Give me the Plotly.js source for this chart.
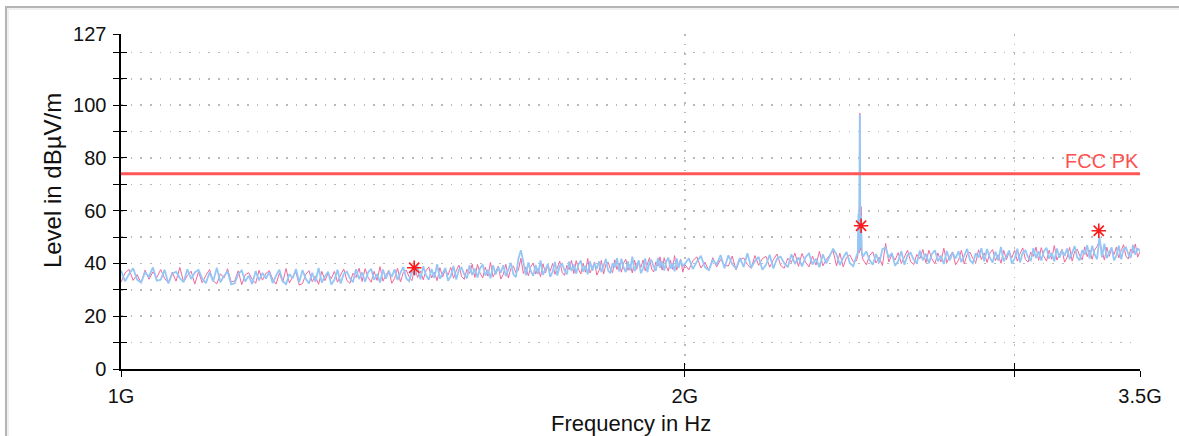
<!DOCTYPE html>
<html>
<head>
<meta charset="utf-8">
<script src="https://cdn.plot.ly/plotly-3.0.1.min.js"></script>
<style>
  html, body { margin: 0; padding: 0; background: #ffffff; }
  #wrap { position: relative; width: 1179px; height: 436px; overflow: hidden; }
  #frame { position: absolute; left: 5px; top: 6px; width: 1200px; height: 460px;
           border-left: 2px solid #b4b4b4; border-top: 2px solid #b4b4b4;
           box-shadow: inset 2px 2px 0 #efefef; }
  #chart { position: absolute; left: 0; top: 0; width: 1179px; height: 436px; }
</style>
</head>
<body>
<div id="wrap">
  <div id="frame"></div>
  <div id="chart"></div>
</div>
<script>
// Frequency sweep points (MHz)
const freqMHz = [
1000,1005,1010,1015,1020,1025,1030,1035,1040,1045,
1050,1055,1060,1065,1070,1075,1080,1085,1090,1095,
1100,1105,1110,1115,1120,1125,1130,1135,1140,1145,
1150,1155,1160,1165,1170,1175,1180,1185,1190,1195,
1200,1205,1210,1215,1220,1225,1230,1235,1240,1245,
1250,1255,1260,1265,1270,1275,1280,1285,1290,1295,
1300,1305,1310,1315,1320,1325,1330,1335,1340,1345,
1350,1355,1360,1365,1370,1375,1380,1385,1390,1395,
1400,1405,1410,1415,1420,1425,1430,1435,1440,1445,
1450,1455,1460,1465,1470,1475,1480,1485,1490,1495,
1500,1505,1510,1515,1520,1525,1530,1535,1540,1545,
1550,1555,1560,1565,1570,1575,1580,1585,1590,1595,
1600,1605,1610,1615,1620,1625,1630,1635,1640,1645,
1650,1655,1660,1665,1670,1675,1680,1685,1690,1695,
1700,1705,1710,1715,1720,1725,1730,1735,1740,1745,
1750,1755,1760,1765,1770,1775,1780,1785,1790,1795,
1800,1805,1810,1815,1820,1825,1830,1835,1840,1845,
1850,1855,1860,1865,1870,1875,1880,1885,1890,1895,
1900,1905,1910,1915,1920,1925,1930,1935,1940,1945,
1950,1955,1960,1965,1970,1975,1980,1985,1990,1995,
2000,
2010,2020,2030,2040,2050,2060,2070,2080,2090,2100,
2110,2120,2130,2140,2150,2160,2170,2180,2190,2200,
2210,2220,2230,2240,2250,2260,2270,2280,2290,2300,
2310,2320,2330,2340,2350,2360,2370,2380,2390,2400,
2410,2420,2430,2440,2450,2460,
2470,2474,2476,2478,2480,2482,2484,2486,2490,
2500,2510,2520,2530,2540,2550,2560,2570,2580,2590,
2600,2610,2620,2630,2640,2650,2660,2670,2680,2690,
2700,2710,2720,2730,2740,2750,2760,2770,2780,2790,
2800,2810,2820,2830,2840,2850,2860,2870,2880,2890,
2900,2910,2920,2930,2940,2950,2960,2970,2980,2990,
3000,3010,3020,3030,3040,3050,3060,3070,3080,3090,
3100,3110,3120,3130,3140,3150,3160,3170,3180,3190,
3200,3210,3220,3230,3240,3250,3260,3270,3280,3290,
3300,3310,3320,3330,3340,3350,3360,3370,3380,3390,
3400,3410,3420,3430,3440,3450,3460,3470,3480,3490,
3500
];

// Peak level, first polarisation (blue trace), dBµV/m
const levelBlue = [
37.3,33.2,36.0,38.2,33.9,32.8,36.6,35.0,38.5,33.5,
33.8,37.6,32.4,36.1,36.9,34.4,32.9,37.8,34.1,36.6,
37.6,34.3,32.5,36.6,33.2,38.4,32.9,35.3,37.0,32.1,
32.5,36.0,37.4,33.2,35.4,32.2,37.1,33.6,36.4,34.3,
36.7,32.6,35.4,37.6,33.3,32.2,36.0,34.4,37.9,32.9,
37.5,34.2,32.4,36.5,33.1,38.3,32.8,35.2,36.9,32.0,
33.8,37.6,32.4,36.1,36.9,34.4,32.9,37.8,34.1,36.6,
33.1,36.6,38.0,33.8,36.0,32.8,37.7,34.2,37.0,34.9,
37.8,33.7,36.5,38.7,34.4,33.3,37.1,35.5,39.0,34.0,
38.9,35.6,33.8,37.9,34.5,39.7,34.2,36.6,38.3,33.4,
35.3,39.1,33.9,37.6,38.4,35.9,34.4,39.3,35.6,38.1,
34.7,38.2,39.6,35.4,37.6,34.4,39.3,35.8,38.6,36.5,
39.3,35.2,38.0,40.2,35.9,34.8,41.8,45.0,40.5,35.5,
40.4,37.1,35.3,39.4,36.0,41.2,35.7,38.1,39.8,34.9,
36.8,40.6,35.4,39.1,39.9,37.4,35.9,40.8,37.1,39.6,
36.2,39.7,41.1,36.9,39.1,35.9,40.8,37.3,40.1,38.0,
40.8,36.7,39.5,41.7,37.4,36.3,40.1,38.5,42.0,37.0,
41.8,38.5,36.7,40.8,37.4,42.6,37.1,39.5,41.2,36.3,
38.1,41.9,36.7,40.4,41.2,38.7,37.2,42.1,38.4,40.9,
37.3,40.8,42.2,38.0,40.2,37.0,41.9,38.4,41.2,39.1,
39.8,
42.0,37.9,40.7,42.9,38.6,37.5,41.3,39.7,43.2,38.2,
43.1,39.8,38.0,42.1,38.7,43.9,38.4,40.8,42.5,37.6,
39.5,43.3,38.1,41.8,42.6,40.1,38.6,43.5,39.8,42.3,
38.9,42.4,43.8,39.6,41.8,38.6,43.5,40.0,42.8,45.6,
43.5,39.4,42.2,44.4,40.1,39.0,
42.8,44.0,59.0,45.0,96.5,46.0,58.0,44.5,42.6,
44.6,41.3,39.5,43.6,40.2,45.4,46.0,42.3,44.0,39.1,
40.9,44.7,39.5,43.2,44.0,41.5,40.0,44.9,41.2,43.7,
40.1,43.6,45.0,40.8,43.0,39.8,44.7,41.2,44.0,41.9,
44.6,40.5,43.3,45.5,41.2,40.1,43.9,42.3,45.8,40.8,
45.5,42.2,40.4,44.5,41.1,46.3,40.8,43.2,44.9,40.0,
41.8,45.6,40.4,44.1,44.9,42.4,40.9,45.8,42.1,44.6,
41.1,44.6,46.0,41.8,44.0,40.8,45.7,42.2,45.0,42.9,
45.7,41.6,44.4,46.6,42.3,41.2,45.0,43.4,46.9,41.9,
46.7,43.4,41.6,50.2,42.3,47.5,42.0,44.4,46.1,41.2,
43.0,46.8,41.6,45.3,46.1,43.6,42.1,47.0,43.3,45.8,
44.7
];

// Peak level, second polarisation (pink trace), dBµV/m
const levelPink = [
32.9,36.4,37.8,33.6,35.8,32.6,37.5,34.0,36.8,34.7,
37.7,34.4,32.6,36.7,33.3,38.5,33.0,35.4,37.1,32.2,
36.8,32.7,35.5,37.7,33.4,32.3,36.1,34.5,38.0,33.0,
33.4,37.2,32.0,35.7,36.5,34.0,32.5,37.4,33.7,36.2,
37.3,34.0,32.2,36.3,32.9,38.1,32.6,35.0,36.7,31.8,
32.4,35.9,37.3,33.1,35.3,32.1,37.0,33.5,36.3,34.2,
37.0,32.9,35.7,37.9,33.6,32.5,36.3,34.7,38.2,33.2,
38.0,34.7,32.9,37.0,33.6,38.8,33.3,35.7,37.4,32.5,
34.4,38.2,33.0,36.7,37.5,35.0,33.5,38.4,34.7,37.2,
33.8,37.3,38.7,34.5,36.7,33.5,38.4,34.9,37.7,35.6,
38.5,34.4,37.2,39.4,35.1,34.0,37.8,36.2,39.7,34.7,
39.6,36.3,34.5,38.6,35.2,40.4,34.9,37.3,39.0,34.1,
35.9,39.7,34.5,38.2,39.0,36.5,37.5,42.0,36.2,38.7,
35.3,38.8,40.2,36.0,38.2,35.0,39.9,36.4,39.2,37.1,
40.0,35.9,38.7,40.9,36.6,35.5,39.3,37.7,41.2,36.2,
41.1,37.8,36.0,40.1,36.7,41.9,36.4,38.8,40.5,35.6,
37.4,41.2,36.0,39.7,40.5,38.0,36.5,41.4,37.7,40.2,
36.7,40.2,41.6,37.4,39.6,36.4,41.3,37.8,40.6,38.5,
41.3,37.2,40.0,42.2,37.9,36.8,40.6,39.0,42.5,37.5,
42.2,38.9,37.1,41.2,37.8,43.0,37.5,39.9,41.6,36.7,
39.6,
37.6,41.1,42.5,38.3,40.5,37.3,42.2,38.7,41.5,39.4,
39.0,42.8,37.6,41.3,42.1,39.6,38.1,43.0,39.3,41.8,
42.7,38.6,41.4,43.6,39.3,38.2,42.0,40.4,43.9,38.9,
43.8,40.5,38.7,42.8,39.4,44.6,39.1,41.5,43.2,44.8,
39.1,43.9,38.7,42.4,43.2,40.7,
41.0,43.0,55.0,44.0,97.0,45.0,61.5,43.5,41.5,
39.5,43.0,44.4,40.2,42.4,39.2,47.6,40.6,43.4,41.3,
44.1,40.0,42.8,45.0,40.7,39.6,43.4,41.8,45.3,40.3,
45.0,41.7,39.9,44.0,40.6,45.8,40.3,42.7,44.4,39.5,
41.2,45.0,39.8,43.5,44.3,41.8,40.3,45.2,41.5,44.0,
40.4,43.9,45.3,41.1,43.3,40.1,45.0,41.5,44.3,42.2,
45.0,40.9,43.7,45.9,41.6,40.5,44.3,42.7,46.2,41.2,
46.0,42.7,40.9,45.0,41.6,46.8,41.3,43.7,45.4,40.5,
42.3,46.1,40.9,44.6,45.4,42.9,41.4,46.3,42.6,45.1,
41.6,45.1,46.5,48.5,44.5,41.3,46.2,42.7,45.5,43.4,
46.2,42.1,44.9,47.1,42.8,41.7,45.5,43.9,47.4,42.4,
44.5
];

// Limit line
const limitFreqMHz = [1000, 3500];
const limitLevel = [74, 74];
const limitName = "FCC PK";

// Final measurement markers
const markFreqMHz = [1434, 2484, 3327];
const markLevel = [38.4, 54.3, 52.4];

// Axis ticks and titles
const xTickVals = [1000, 2000, 3000, 3500];
const xTickText = ["1G", "2G", "", "3.5G"];
const yTickVals = [0, 10, 20, 30, 40, 50, 60, 70, 80, 90, 100, 110, 120, 127];
const yTickText = ["0", "", "20", "", "40", "", "60", "", "80", "", "100", "", "", "127"];
const xRangeMHz = [1000, 3500];
const yRange = [0, 127];
const xTitle = "Frequency in Hz";
const yTitle = "Level in dBµV/m";

const FONT = "Liberation Sans, Arial, Helvetica, sans-serif";
const xr = [Math.log10(xRangeMHz[0]), Math.log10(xRangeMHz[1])];

const traces = [
  { x: freqMHz, y: levelPink, type: "scatter", mode: "lines",
    line: { color: "#f0689b", width: 1 }, hoverinfo: "skip" },
  { x: freqMHz, y: levelBlue, type: "scatter", mode: "lines",
    line: { color: "#95c7f6", width: 1.8 }, hoverinfo: "skip" },
  { x: limitFreqMHz, y: limitLevel, type: "scatter", mode: "lines",
    line: { color: "#ff5757", width: 3 }, hoverinfo: "skip" },
  { x: markFreqMHz, y: markLevel, type: "scatter", mode: "markers",
    marker: { symbol: "asterisk-open", size: 12, color: "#ff1a1a",
              line: { color: "#ff1a1a", width: 1.6 } }, hoverinfo: "skip" },
  { x: [], y: [], xaxis: "x2", yaxis: "y2", type: "scatter", mode: "lines", hoverinfo: "skip" }
];

const gridDash = "1.6px,8.1px";
const layout = {
  width: 1179, height: 436,
  margin: { l: 121, r: 39, t: 34, b: 67, pad: 0 },
  paper_bgcolor: "rgba(0,0,0,0)",
  plot_bgcolor: "rgba(0,0,0,0)",
  showlegend: false,
  font: { family: FONT, color: "#000000", size: 20 },
  xaxis: {
    type: "log", range: xr, tickmode: "array", tickvals: xTickVals, ticktext: xTickText,
    showline: true, linecolor: "#000000", linewidth: 1.6, mirror: false,
    ticks: "outside", ticklen: 6, tickwidth: 1, tickcolor: "#000000",
    ticklabelstandoff: 2,
    tickfont: { family: FONT, size: 20, color: "#111111" },
    showgrid: true, gridcolor: "#b9b9b9", gridwidth: 1.6, griddash: gridDash,
    zeroline: false,
    automargin: false, fixedrange: true
  },
  yaxis: {
    range: yRange, tickmode: "array", tickvals: yTickVals, ticktext: yTickText,
    showline: true, linecolor: "#000000", linewidth: 1.6,
    ticks: "outside", ticklen: 6, tickwidth: 1, tickcolor: "#000000",
    ticklabelstandoff: 3,
    tickfont: { family: FONT, size: 20, color: "#111111" },
    showgrid: true, gridcolor: "#b9b9b9", gridwidth: 1.6, griddash: gridDash,
    zeroline: false,
    automargin: false, fixedrange: true
  },
  xaxis2: {
    type: "log", range: xr, overlaying: "x", anchor: "y", side: "bottom",
    tickmode: "array", tickvals: xTickVals, showticklabels: false,
    ticks: "inside", ticklen: 6, tickwidth: 1, tickcolor: "#000000",
    showgrid: false, showline: false, zeroline: false, fixedrange: true
  },
  yaxis2: {
    range: yRange, overlaying: "y", anchor: "x", side: "left",
    tickmode: "array", tickvals: yTickVals, showticklabels: false,
    ticks: "inside", ticklen: 6, tickwidth: 1, tickcolor: "#000000",
    showgrid: false, showline: false, zeroline: false, fixedrange: true
  },
  annotations: [
    {
      text: limitName, xref: "x", yref: "y",
      x: Math.log10(limitFreqMHz[1]), y: limitLevel[1],
      xanchor: "right", yanchor: "bottom", yshift: 0, xshift: 1, showarrow: false,
      font: { family: FONT, size: 20, color: "#ff5050" }
    },
    {
      text: yTitle, xref: "paper", yref: "paper",
      x: -0.0677, y: 0.561, xanchor: "center", yanchor: "middle",
      textangle: -90, showarrow: false,
      font: { family: FONT, size: 24, color: "#111111" }
    },
    {
      text: xTitle, xref: "paper", yref: "paper",
      x: 0.5005, y: -0.163, xanchor: "center", yanchor: "middle",
      showarrow: false,
      font: { family: FONT, size: 22, color: "#111111" }
    }
  ]
};

Plotly.newPlot("chart", traces, layout, { staticPlot: true, displayModeBar: false });
</script>
</body>
</html>
